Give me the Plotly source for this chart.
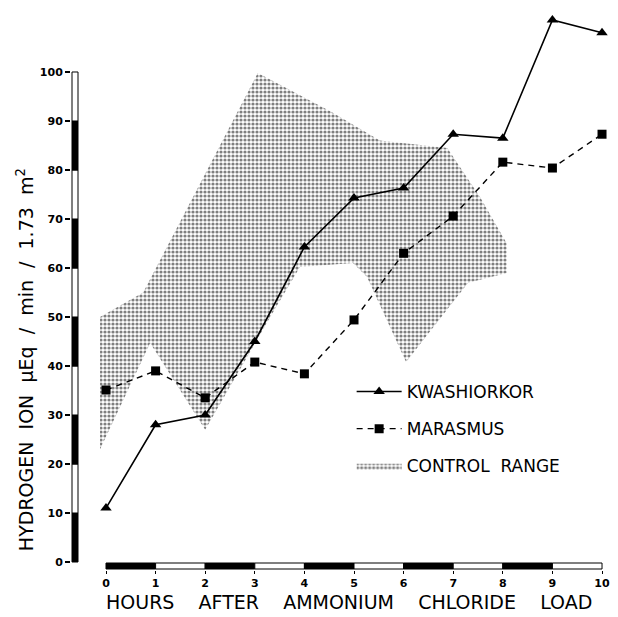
import plotly.graph_objects as go

# ---------------- data ----------------
hours = [0, 1, 2, 3, 4, 5, 6, 7, 8, 9, 10]
kwashiorkor = [11, 28, 30, 45, 64.3, 74.3, 76.3, 87.3, 86.5, 110.6, 108]
marasmus = [35.1, 39, 33.5, 40.8, 38.4, 49.4, 63, 70.6, 81.6, 80.4, 87.3]

# control range outline: upper edge (left -> right), lower edge (right -> left)
ctrl_upper_x = [-0.12, 0.75, 3.06, 4.52, 5.52, 6.88, 7.54, 8.08]
ctrl_upper_y = [50, 55, 99.8, 92, 86, 84.5, 74.5, 65]
ctrl_lower_x = [8.08, 7.3, 6.05, 5.26, 4.98, 3.91, 3.31, 2.0, 0.89, -0.12]
ctrl_lower_y = [59, 57, 40.8, 58.2, 61, 60.2, 50, 27, 44.7, 23]

x_ticks = hours
y_ticks = [0, 10, 20, 30, 40, 50, 60, 70, 80, 90, 100]

# ---------------- geometry / style ----------------
FONT = "DejaVu Sans"
X_RANGE = [-0.7056, 10.302]
Y_RANGE = [-1.633, 112.65]
PX_X = 49.6   # px per hour
PX_Y = 4.9    # px per unit

fig = go.Figure()

ctrl_x = ctrl_upper_x + ctrl_lower_x + [ctrl_upper_x[0]]
ctrl_y = ctrl_upper_y + ctrl_lower_y + [ctrl_upper_y[0]]
fig.add_trace(go.Scatter(
    x=ctrl_x, y=ctrl_y, mode="lines", fill="toself",
    line=dict(width=0, color="black"),
    fillcolor="white",
    fillpattern=dict(shape=".", fgcolor="black", bgcolor="white", size=4, solidity=0.5),
    name="CONTROL  RANGE", legendrank=3, legendgroup="c", hoverinfo="skip",
))
fig.add_trace(go.Scatter(
    x=hours, y=marasmus, mode="lines+markers",
    line=dict(color="black", width=1.4, dash="6px,5px"),
    marker=dict(symbol="square", size=9, color="black"),
    name="MARASMUS", legendrank=2, legendgroup="b", cliponaxis=False,
))
fig.add_trace(go.Scatter(
    x=hours, y=kwashiorkor, mode="lines+markers",
    line=dict(color="black", width=1.6),
    marker=dict(symbol="triangle-up", size=10, color="black"),
    name="KWASHIORKOR", legendrank=1, legendgroup="a", cliponaxis=False,
))

# alternating black / white axis bars
shapes = []
yb0 = -(106 - 72) / PX_X
yb1 = -(106 - 78) / PX_X
for i in range(len(y_ticks) - 1):
    shapes.append(dict(type="rect", xref="x", yref="y",
                       x0=yb0, x1=yb1, y0=y_ticks[i], y1=y_ticks[i + 1],
                       fillcolor="black" if i % 2 == 0 else "white",
                       line=dict(color="black", width=1), layer="above"))
xb0 = -1 / PX_Y
xb1 = -7 / PX_Y
for i in range(len(x_ticks) - 1):
    shapes.append(dict(type="rect", xref="x", yref="y",
                       x0=x_ticks[i], x1=x_ticks[i + 1], y0=xb1, y1=xb0,
                       fillcolor="black" if i % 2 == 0 else "white",
                       line=dict(color="black", width=1), layer="above"))

annotations = [
    dict(text="HOURS    AFTER    AMMONIUM    CHLORIDE    LOAD", xref="paper", yref="paper",
         x=0.509, y=-0.057, showarrow=False, xanchor="center", yanchor="middle",
         font=dict(family=FONT, size=19, color="black")),
    dict(text="HYDROGEN  ION  \u00b5Eq  /  min  /  1.73  m<sup>2</sup>", xref="paper", yref="paper",
         x=-0.084, y=0.375, showarrow=False, textangle=-90, xanchor="center", yanchor="middle",
         font=dict(family=FONT, size=19, color="black")),
]

fig.update_layout(
    width=618, height=617,
    margin=dict(l=71, r=1, t=10, b=47),
    paper_bgcolor="white", plot_bgcolor="white",
    shapes=shapes, annotations=annotations,
    showlegend=True,
    legend=dict(x=0.514, y=0.35, xanchor="left", yanchor="top",
                font=dict(family=FONT, size=17, color="black"),
                bgcolor="rgba(0,0,0,0)", tracegroupgap=12, itemwidth=45),
    xaxis=dict(range=X_RANGE, tickvals=x_ticks, ticktext=[str(v) for v in x_ticks],
               ticks="outside", ticklen=3, tickcolor="black", showgrid=False,
               zeroline=False, showline=False,
               tickfont=dict(family=FONT, size=11, color="black", weight="bold")),
    yaxis=dict(range=Y_RANGE, tickvals=y_ticks, ticktext=[str(v) for v in y_ticks],
               ticks="outside", ticklen=5, tickwidth=1.5, tickcolor="black", showgrid=False,
               zeroline=False, showline=False,
               tickfont=dict(family=FONT, size=11, color="black", weight="bold")),
)

post = "document.body.style.margin = '0'; document.body.style.overflow = 'hidden';"
fig.write_html("out.html", post_script=post, config={"displayModeBar": False})
